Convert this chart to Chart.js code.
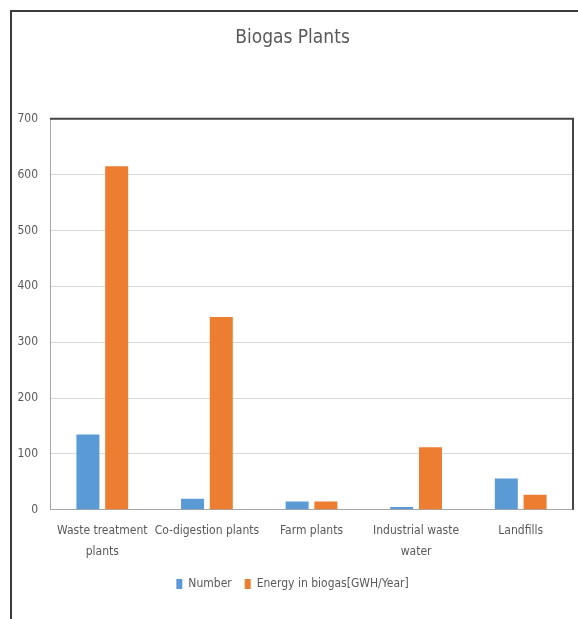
<!DOCTYPE html>
<html>
<head>
<meta charset="utf-8">
<script src="https://cdn.jsdelivr.net/npm/chart.js@4/dist/chart.umd.min.js"></script>
<style>
  html, body { margin: 0; padding: 0; background: #fff; }
  #frame {
    position: absolute; left: 10px; top: 10px;
    width: 566px; height: 607px;
    border-left: 2px solid #3a3a3a; border-top: 2px solid #3a3a3a;
  }
  #frame canvas { display: block; }
</style>
</head>
<body>
<div id="frame"><canvas id="bar-chart" width="566" height="607"></canvas></div>
<script>
const categories = [["Waste treatment", "plants"], "Co-digestion plants", "Farm plants", ["Industrial waste", "water"], "Landfills"];
const numberValues = [135, 20, 15, 5, 56];
const energyValues = [615, 345, 15, 112, 27];
const yTicks = [0, 100, 200, 300, 400, 500, 600, 700];

const FONT = '"Liberation Sans Narrow", "DejaVu Sans Condensed", "Liberation Sans", sans-serif';
const TEXT = '#595959';

// dark frame on top and right of the plot area
const plotFrame = {
    id: 'plotFrame',
    afterDraw(chart) {
        const a = chart.chartArea, c = chart.ctx;
        c.save();
        c.strokeStyle = '#444';
        c.lineWidth = 2;
        c.beginPath();
        c.moveTo(a.left, a.top);
        c.lineTo(a.right, a.top);
        c.lineTo(a.right, a.bottom);
        c.stroke();
        c.restore();
    }
};

new Chart(document.getElementById("bar-chart"), {
    type: 'bar',
    data: {
        labels: categories,
        datasets: [
            {
                label: "Number",
                backgroundColor: "#5B9BD5",
                data: numberValues
            },
            {
                label: "Energy in biogas[GWH/Year]",
                backgroundColor: "#ED7D31",
                data: energyValues
            }
        ]
    },
    options: {
        responsive: false,
        animation: false,
        datasets: {
            bar: { categoryPercentage: 0.55, barPercentage: 0.8 }
        },
        layout: { padding: { left: 0, right: 5, top: 0, bottom: 19 } },
        scales: {
            x: {
                grid: { display: false },
                border: { color: '#a6a6a6', width: 1 },
                ticks: {
                    color: TEXT, padding: 2, maxRotation: 0, autoSkip: false,
                    font: { family: FONT, size: 12, lineHeight: 1.8 }
                }
            },
            y: {
                min: 0, max: 700,
                afterFit(scale) { scale.width = 38; },
                afterBuildTicks(scale) { scale.ticks = yTicks.map(v => ({ value: v })); },
                grid: { color: '#d9d9d9', drawTicks: false },
                border: { color: '#a6a6a6', width: 1 },
                ticks: {
                    color: TEXT, padding: 12,
                    font: { family: FONT, size: 12 }
                }
            }
        },
        plugins: {
            title: {
                display: true,
                text: 'Biogas Plants',
                color: TEXT,
                font: { family: FONT, size: 19, weight: 'normal' },
                padding: { top: 15, bottom: 69 }
            },
            legend: {
                position: 'bottom',
                labels: {
                    color: TEXT, boxWidth: 6, boxHeight: 10, padding: 13,
                    font: { family: FONT, size: 12 }
                }
            },
            tooltip: { enabled: false }
        }
    },
    plugins: [plotFrame]
});
</script>
</body>
</html>
